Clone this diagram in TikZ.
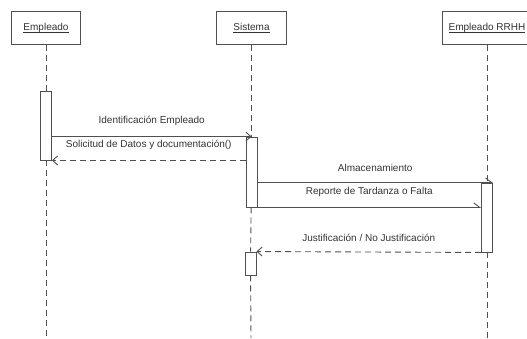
\documentclass[tikz,border=0pt]{standalone}
\usepackage{fontspec}
\setmainfont{Liberation Sans}
\usetikzlibrary{arrows.meta}
\definecolor{umlline}{HTML}{505050}
\definecolor{umltext}{HTML}{333333}
\newsavebox{\ulbox}
\newcommand{\ulname}[1]{\sbox{\ulbox}{#1}\rlap{\rule[-1.8pt]{\wd\ulbox}{0.6pt}}\usebox{\ulbox}}

\begin{document}
\begin{tikzpicture}[x=1pt,y=-1pt,line width=0.9pt,font=\fontsize{10}{12}\selectfont]
        %
        % `actor' is used for the boxes on top, `activation' for the bars.
        % `lifeline' is the dashed vertical, `msg' / `asyncmsg' / `reply' are the messages.
        \tikzstyle{actor} = [draw=umlline,fill=white,text=umltext,minimum height=33pt,inner sep=0pt]
        \tikzstyle{activation} = [draw=umlline,fill=white,minimum width=11pt,inner sep=0pt]
        \tikzstyle{lifeline} = [draw=umlline,dash pattern=on 6pt off 4pt]
        \tikzstyle{msg} = [draw=umlline,-{Straight Barb[length=5pt,width=9pt]}]
        \tikzstyle{asyncmsg} = [draw=umlline,-{Straight Barb[length=6pt,width=9pt,left]}]
        \tikzstyle{reply} = [msg,dash pattern=on 6pt off 4pt]
        \tikzstyle{msglabel} = [midway,above=7pt,text=umltext]
        %
        \clip (0,0) rectangle (527,338);
        %
        % Actors
        \node[actor,minimum width=69pt] (emp) at (46,28) {\ulname{Empleado}};
        \node[actor,minimum width=70pt] (sis) at (251.5,28) {\ulname{Sistema}};
        \node[actor,minimum width=90pt] (rrhh) at (487,28) {\ulname{Empleado RRHH}};
        %
        % Activations
        \node[activation,minimum height=69pt] (act1) at (46,125.5) {};
        \node[activation,minimum height=70pt] (act2) at (251.5,172) {};
        \node[activation,minimum height=69pt] (act3) at (487,217.5) {};
        \node[activation,minimum height=23pt] (act4) at (250.5,263.5) {};
        %
        % Lifeline ends
        \coordinate (empend) at (46,338);
        \coordinate (sisend) at (251,338);
        \coordinate (rrhhend) at (487,338);
        %
        % Lifelines
        \draw[lifeline] (emp) -- (act1);
        \draw[lifeline] (act1) -- (empend);
        \draw[lifeline] (sis) -- (act2);
        \draw[lifeline] (act2) -- (act4);
        \draw[lifeline] (act4) -- (sisend);
        \draw[lifeline] (rrhh) -- (act3);
        \draw[lifeline] (act3) -- (rrhhend);
        %
        % Messages
        \draw[msg] (act1.east |- act2.north) -- (act2.north)
        	node[msglabel] {Identificación Empleado};
        \draw[reply] (act2.west |- act1.south) -- (act1.south east)
        	node[msglabel] {Solicitud de Datos y documentación()};
        \draw[asyncmsg] (act2.east |- act3.north) -- (act3.north east)
        	node[msglabel] {Almacenamiento};
        \draw[asyncmsg] (act2.south east) -- (act2.south east -| act3.west)
        	node[msglabel] {Reporte de Tardanza o Falta};
        \draw[reply] (act3.south west) -- (act4.north east)
        	node[msglabel] {Justificación / No Justificación};
        %
\end{tikzpicture}
\end{document}
